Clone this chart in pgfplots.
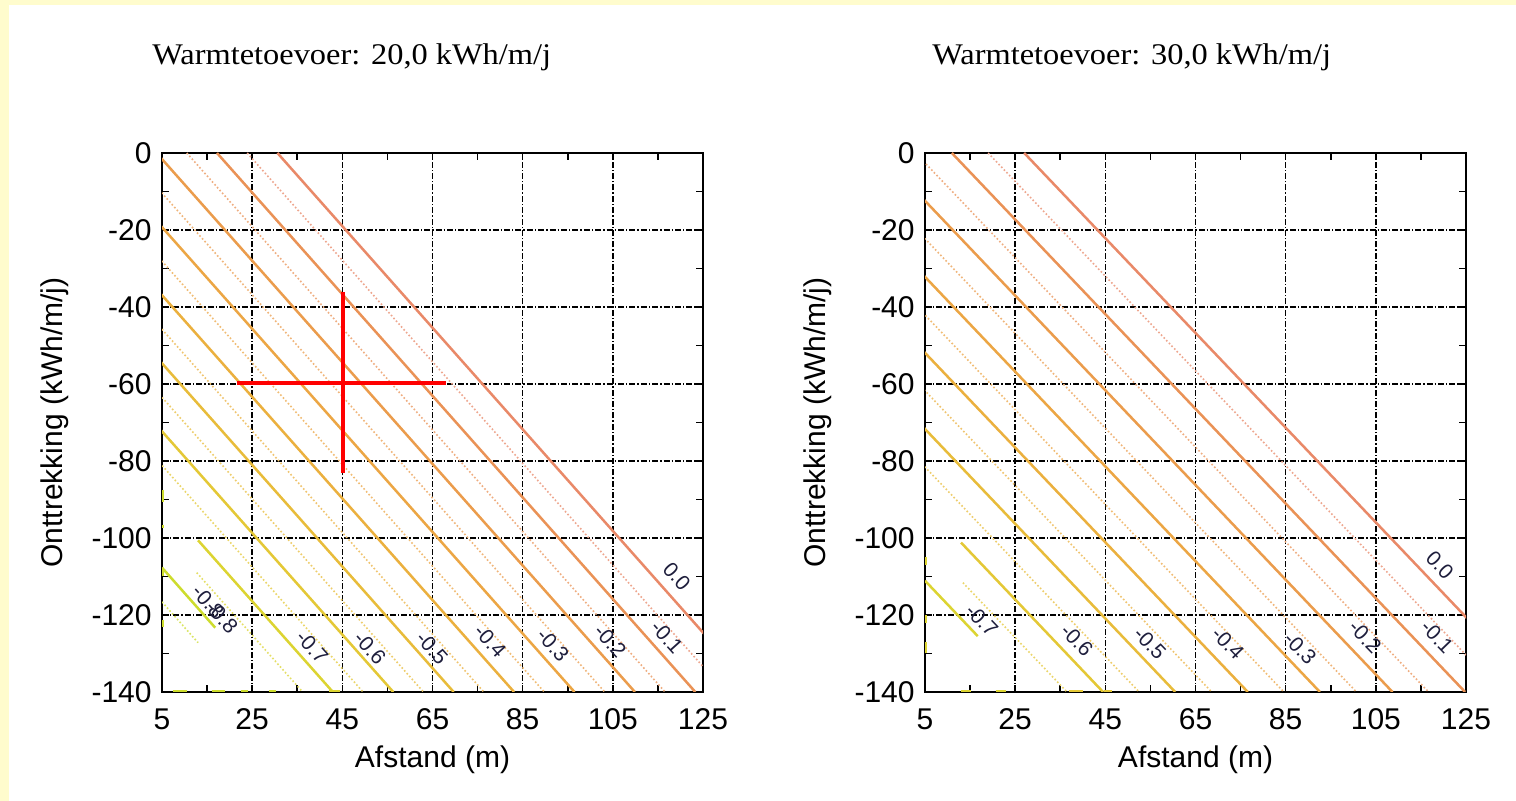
\documentclass[border=0pt]{standalone}
\usepackage{fontspec}
\setmainfont{Liberation Serif}
\newfontfamily\arial{Liberation Sans}
\usepackage{graphicx}
\usepackage{pgfplots}
\pgfplotsset{compat=1.18}

\definecolor{bgyellow}{RGB}{255,252,205}
\definecolor{c0}{RGB}{233,137,104}
\definecolor{c1}{RGB}{234,146,86}
\definecolor{c2}{RGB}{235,156,76}
\definecolor{c3}{RGB}{236,166,68}
\definecolor{c4}{RGB}{235,176,62}
\definecolor{c5}{RGB}{232,188,58}
\definecolor{c6}{RGB}{228,200,54}
\definecolor{c7}{RGB}{220,212,50}
\definecolor{c8}{RGB}{205,220,45}
\definecolor{lbl}{RGB}{30,30,60}

\tikzset{lab/.style={font=\arial\fontsize{10.5}{11}\selectfont, text=lbl, inner sep=0pt}}

\pgfplotsset{
  ctr/.style={
    scale only axis, width=270.5pt, height=269.5pt,
    xmin=5, xmax=125, ymin=-140, ymax=0,
    xtick={5,25,45,65,85,105,125},
    xticklabels={5,25,45,65,85,105,125},
    ytick={-140,-120,-100,-80,-60,-40,-20,0},
    yticklabels={-140,-120,-100,-80,-60,-40,-20,0},
    minor x tick num=1, minor y tick num=1,
    tick align=inside, major tick length=3.5pt, minor tick length=3.5pt,
    axis line style={line width=1pt},
    tick style={black, line width=0.8pt},
    grid=major,
    major grid style={black, line width=0.75pt, dash pattern=on 3pt off 1pt on 0.7pt off 1pt},
    ticklabel style={font=\arial\fontsize{15}{16}\selectfont, inner sep=0pt},
    xticklabel style={anchor=north, yshift=-8pt},
    yticklabel style={anchor=east, xshift=-5pt},
    label style={font=\arial\fontsize{15}{16}\selectfont},
    xlabel={Afstand (m)}, ylabel={Onttrekking (kWh/m/j)},
    xlabel style={at={(axis description cs:0.5,-0.126)}, anchor=center},
    ylabel style={at={(axis description cs:-0.198,0.5)}, anchor=center},
  },
  s/.style={line width=1.25pt, color=#1},
  d/.style={line width=0.8pt, color=#1!75!white, dash pattern=on 0.8pt off 1.1pt},
  ym/.style={line width=1.6pt, color=#1},
}

\begin{document}
\begin{tikzpicture}
\fill[bgyellow] (0,0) rectangle (758pt,400.5pt);
\fill[white] (4.5pt,0pt) rectangle (758pt,398pt);

% left: 20,0 kWh/m/j
\begin{axis}[ctr, at={(81pt,54.5pt)}, anchor=south west]
\addplot[s=c0] coordinates {(30.6,0) (136.7,-140)};
\addplot[d=c0] coordinates {(23.9,0) (130.0,-140)};
\addplot[s=c1] coordinates {(17.2,0) (123.3,-140)};
\addplot[d=c1] coordinates {(10.5,0) (116.6,-140)};
\addplot[s=c2] coordinates {(3.8,0) (109.9,-140)};
\addplot[d=c2] coordinates {(-2.9,0) (103.2,-140)};
\addplot[s=c3] coordinates {(-9.6,0) (96.5,-140)};
\addplot[d=c3] coordinates {(-16.3,0) (89.8,-140)};
\addplot[s=c4] coordinates {(-23.0,0) (83.1,-140)};
\addplot[d=c4] coordinates {(-29.7,0) (76.4,-140)};
\addplot[s=c5] coordinates {(-36.4,0) (69.7,-140)};
\addplot[d=c5] coordinates {(-43.1,0) (63.0,-140)};
\addplot[s=c6] coordinates {(-49.8,0) (56.3,-140)};
\addplot[d=c6] coordinates {(-56.5,0) (49.6,-140)};
\addplot[s=c7] coordinates {(13.0,-100.6) (42.9,-140)};
\addplot[d=c7] coordinates {(12.7,-109.0) (36.2,-140)};
\addplot[s=c8] coordinates {(5,-107.7) (16.8,-123.3)};
\addplot[d=c8] coordinates {(5,-116.6) (13,-127.2)};
% yellow bits on the frame
\addplot[ym=c8] coordinates {(5,-87.5) (5,-90.6)};
\addplot[ym=c8] coordinates {(5,-96.6) (5,-97.4)};
\addplot[ym=c8] coordinates {(5,-108.3) (5,-110)};
\addplot[ym=c8] coordinates {(5,-121.3) (5,-123.1)};
\addplot[ym=c8] coordinates {(7.4,-140) (10.5,-140)};
\addplot[ym=c8] coordinates {(16,-140) (19,-140)};
\addplot[ym=c8] coordinates {(22.5,-140) (24,-140)};
\addplot[ym=c8] coordinates {(28.7,-140) (30.3,-140)};
\addplot[ym=c7] coordinates {(42,-140) (44.5,-140)};
% labels
\node[lab, rotate=-48] at (axis cs:119.2,-109.9) {0.0};
\node[lab, rotate=-48] at (axis cs:117.0,-125.7) {-0.1};
\node[lab, rotate=-48] at (axis cs:104.4,-126.8) {-0.2};
\node[lab, rotate=-48] at (axis cs:91.7,-127.8) {-0.3};
\node[lab, rotate=-48] at (axis cs:77.8,-126.8) {-0.4};
\node[lab, rotate=-48] at (axis cs:64.9,-128.6) {-0.5};
\node[lab, rotate=-48] at (axis cs:51.1,-128.6) {-0.6};
\node[lab, rotate=-48] at (axis cs:38.3,-128.3) {-0.7};
\node[lab, rotate=-48] at (axis cs:15.2,-116.5) {-0.8};
\node[lab, rotate=-48] at (axis cs:18.3,-120.6) {-0.8};
% red cross
\addplot[red, line width=2.2pt] coordinates {(21.6,-59.7) (68.0,-59.7)};
\addplot[red, line width=2.2pt] coordinates {(45.1,-36.1) (45.1,-83.1)};
\end{axis}

% right: 30,0 kWh/m/j
\begin{axis}[ctr, at={(462.5pt,54.5pt)}, anchor=south west]
\addplot[s=c0] coordinates {(27,0) (140.8,-140)};
\addplot[d=c0] coordinates {(19.0,0) (132.8,-140)};
\addplot[s=c1] coordinates {(10.95,0) (124.8,-140)};
\addplot[d=c1] coordinates {(2.9,0) (116.7,-140)};
\addplot[s=c2] coordinates {(-5.1,0) (108.7,-140)};
\addplot[d=c2] coordinates {(-13.1,0) (100.7,-140)};
\addplot[s=c3] coordinates {(-21.15,0) (92.6,-140)};
\addplot[d=c3] coordinates {(-29.2,0) (84.6,-140)};
\addplot[s=c4] coordinates {(-37.2,0) (76.6,-140)};
\addplot[d=c4] coordinates {(-45.2,0) (68.6,-140)};
\addplot[s=c5] coordinates {(-53.25,0) (60.5,-140)};
\addplot[d=c5] coordinates {(-61.3,0) (52.5,-140)};
\addplot[s=c6] coordinates {(13,-101.2) (44.5,-140)};
\addplot[d=c6] coordinates {(13.4,-111.6) (36.5,-140)};
\addplot[s=c7] coordinates {(5,-111.1) (16.7,-125.5)};
\addplot[ym=c7] coordinates {(5,-105) (5,-107)};
\addplot[ym=c7] coordinates {(5,-120) (5,-122)};
\addplot[ym=c7] coordinates {(5,-127) (5,-130)};
\addplot[ym=c7] coordinates {(13,-140) (15.2,-140)};
\addplot[ym=c7] coordinates {(20.7,-140) (23,-140)};
\addplot[ym=c6] coordinates {(37,-140) (40,-140)};
\addplot[ym=c6] coordinates {(44.6,-140) (46.5,-140)};
\node[lab, rotate=-46] at (axis cs:119.2,-107.0) {0.0};
\node[lab, rotate=-46] at (axis cs:118.6,-125.7) {-0.1};
\node[lab, rotate=-46] at (axis cs:102.6,-125.7) {-0.2};
\node[lab, rotate=-46] at (axis cs:88.2,-128.6) {-0.3};
\node[lab, rotate=-46] at (axis cs:72.2,-127.3) {-0.4};
\node[lab, rotate=-46] at (axis cs:54.9,-127.3) {-0.5};
\node[lab, rotate=-46] at (axis cs:38.7,-126.5) {-0.6};
\node[lab, rotate=-46] at (axis cs:17.6,-121.3) {-0.7};
\end{axis}

\node[anchor=west, inner sep=0pt, font=\fontsize{15}{17}\selectfont] at (76pt,372pt)
  {\scalebox{1.08}[1]{Warmtetoevoer: 20,0 kWh/m/j}};
\node[anchor=west, inner sep=0pt, font=\fontsize{15}{17}\selectfont] at (466pt,372pt)
  {\scalebox{1.08}[1]{Warmtetoevoer: 30,0 kWh/m/j}};

\pgfresetboundingbox
\useasboundingbox (0,0) rectangle (758pt,400.5pt);
\end{tikzpicture}
\end{document}
